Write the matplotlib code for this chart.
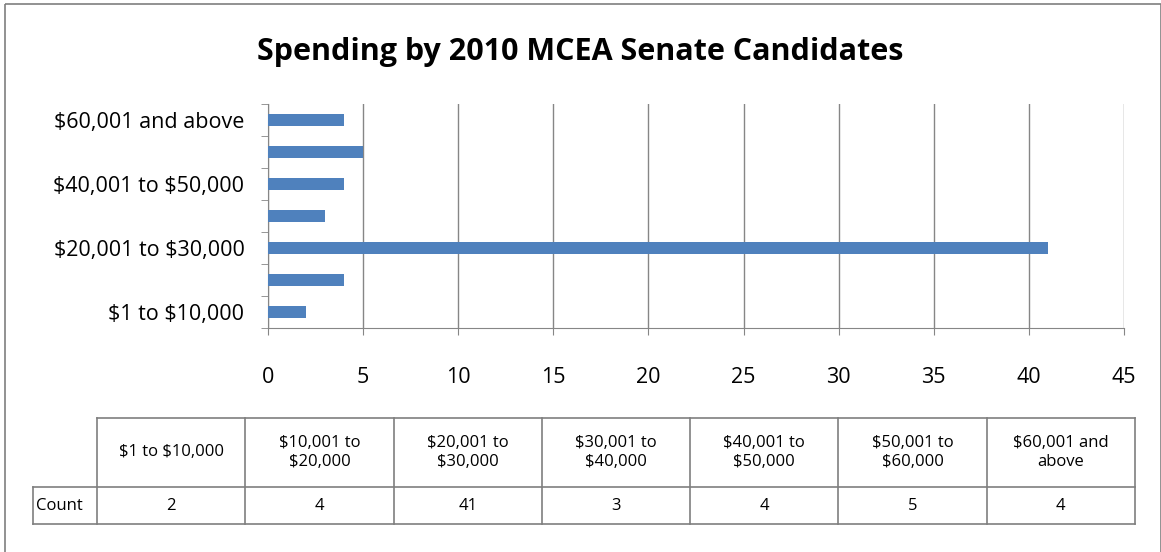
import matplotlib.pyplot as plt
from matplotlib.patches import Rectangle
import numpy as np

categories = ['$1 to $10,000', '$10,001 to $20,000', '$20,001 to $30,000',
              '$30,001 to $40,000', '$40,001 to $50,000', '$50,001 to $60,000',
              '$60,001 and above']
table_heads = ['$1 to $10,000', '$10,001 to\n$20,000', '$20,001 to\n$30,000',
               '$30,001 to\n$40,000', '$40,001 to\n$50,000', '$50,001 to\n$60,000',
               '$60,001 and\nabove']
counts = [2, 4, 41, 3, 4, 5, 4]
x_ticks = [0, 5, 10, 15, 20, 25, 30, 35, 40, 45]

W, H = 1161, 552
BAR = '#4F81BD'
GRID = '#868686'
FONT = 'Open Sans'

plt.rcParams['text.parse_math'] = False


def main():
    fig = plt.figure(figsize=(W / 100, H / 100), dpi=100)

    # frame / table layer in pixel units
    bg = fig.add_axes([0, 0, 1, 1])
    bg.set_xlim(0, W)
    bg.set_ylim(H, 0)
    bg.axis('off')
    bg.add_patch(Rectangle((5, 4), W - 5, H, fill=False, ec='#7f7f7f', lw=1.2))

    ax = fig.add_axes([268 / W, 1 - 328 / H, (1124 - 268) / W, (328 - 104) / H])
    y = np.arange(len(categories))
    ax.barh(y, counts, height=0.4, color=BAR, zorder=3)
    ax.set_xlim(0, 45)
    ax.set_ylim(-0.5, len(categories) - 0.5)
    ax.set_xticks(x_ticks)
    ax.set_xticklabels([str(t) for t in x_ticks], fontsize=15.5, family=FONT)
    ax.set_yticks(y[::2])
    ax.set_yticklabels(categories[::2], fontsize=15.5, family=FONT)
    ax.set_yticks(np.arange(len(categories) + 1) - 0.5, minor=True)
    ax.tick_params(axis='y', which='major', length=0, pad=17)
    ax.tick_params(axis='y', which='minor', length=5, color=GRID, direction='out')
    ax.tick_params(axis='x', length=5, color=GRID, pad=23)
    ax.grid(axis='x', color=GRID, lw=1, zorder=0)
    for s in ['top', 'right']:
        ax.spines[s].set_visible(False)
    for s in ['left', 'bottom']:
        ax.spines[s].set_color(GRID)

    fig.text(0.5, 1 - 52 / H, 'Spending by 2010 MCEA Senate Candidates',
             ha='center', va='center', fontsize=22, fontweight='bold', family=FONT)

    # data table
    xs = np.linspace(97, 1135, len(categories) + 1)
    top, mid, bot = 418, 487, 524
    lc = '#7f7f7f'
    bg.plot([97, 1135], [top, top], color=lc, lw=1.2)
    bg.plot([33, 1135], [mid, mid], color=lc, lw=1.2)
    bg.plot([33, 1135], [bot, bot], color=lc, lw=1.2)
    bg.plot([33, 33], [mid, bot], color=lc, lw=1.2)
    for x in xs:
        bg.plot([x, x], [top, bot], color=lc, lw=1.2)
    bg.text(36, (mid + bot) / 2, 'Count', ha='left', va='center', fontsize=12, family=FONT)
    for i, (h, c) in enumerate(zip(table_heads, counts)):
        cx = (xs[i] + xs[i + 1]) / 2
        bg.text(cx, (top + mid) / 2, h, ha='center', va='center', fontsize=12,
                family=FONT, linespacing=1.25)
        bg.text(cx, (mid + bot) / 2, str(c), ha='center', va='center', fontsize=12,
                family=FONT)

    fig.savefig('out.png', dpi=100)


if __name__ == '__main__':
    main()
